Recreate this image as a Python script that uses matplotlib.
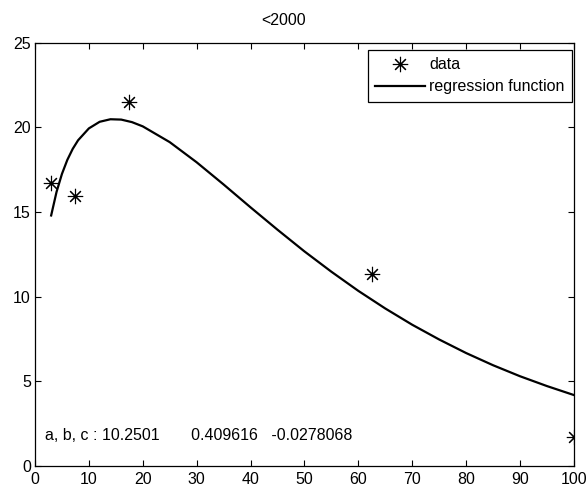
import matplotlib
matplotlib.use("Agg")
import matplotlib.pyplot as plt
from matplotlib import font_manager

# narrow sans looks closest to the old matlab font
try:
    font_manager.findfont('Liberation Sans Narrow', fallback_to_default=False)
    fam, fs = 'Liberation Sans Narrow', 13.5
except Exception:
    fam, fs = 'Liberation Sans', 11.5
plt.rcParams['font.family'] = [fam, 'DejaVu Sans']

# measured points
data_x = [3, 7.5, 17.5, 62.5, 100]
data_y = [16.7, 15.95, 21.5, 11.35, 1.7]

# regression curve
fit_x = [3, 4, 5, 6, 7, 8, 10, 12, 14, 16, 18, 20, 25, 30, 35, 40, 45, 50,
         55, 60, 65, 70, 75, 80, 85, 90, 95, 100]
fit_y = [14.79, 16.18, 17.24, 18.07, 18.72, 19.23, 19.93, 20.32, 20.47, 20.45,
         20.30, 20.05, 19.12, 17.93, 16.62, 15.27, 13.95, 12.67, 11.47, 10.34,
         9.30, 8.34, 7.47, 6.67, 5.95, 5.30, 4.72, 4.19]

params_text = "a, b, c : 10.2501       0.409616   -0.0278068"

fig = plt.figure(figsize=(5.87, 4.87), dpi=100)
ax = fig.add_axes([0.0596, 0.0431, 0.918, 0.8696])

ax.plot(data_x, data_y, linestyle='none', marker=(8, 2, 0), markersize=11,
        markeredgewidth=0.8, color='black', label='data')
ax.plot(data_x, data_y, linestyle='none', marker='.', markersize=3, color='black')
ax.plot(fit_x, fit_y, color='black', linewidth=1.6, label='regression function')

ax.set_xlim(0, 100)
ax.set_ylim(0, 25)
ax.set_xticks(range(0, 101, 10))
ax.set_yticks(range(0, 26, 5))
ax.tick_params(direction='in', top=True, right=True, labelsize=fs, length=4,
               width=0.8)
ax.tick_params(axis='x', pad=4)
ax.tick_params(axis='y', pad=3)
for s in ax.spines.values():
    s.set_linewidth(0.9)

fig.text(0.483, 0.957, "<2000", fontsize=fs, ha='center', va='center')
ax.text(1.86, 1.83, params_text, fontsize=fs, va='center', ha='left')

handles, labels = ax.get_legend_handles_labels()
leg = ax.legend(handles[:2], labels[:2], loc='upper right',
                bbox_to_anchor=(0.9963, 0.9823), borderaxespad=0,
                fontsize=fs, fancybox=False, framealpha=1, edgecolor='black',
                handlelength=3.1, handletextpad=0.3, borderpad=0.45,
                labelspacing=0.45)
leg.get_frame().set_linewidth(0.9)

plt.savefig("out.png", dpi=100)
